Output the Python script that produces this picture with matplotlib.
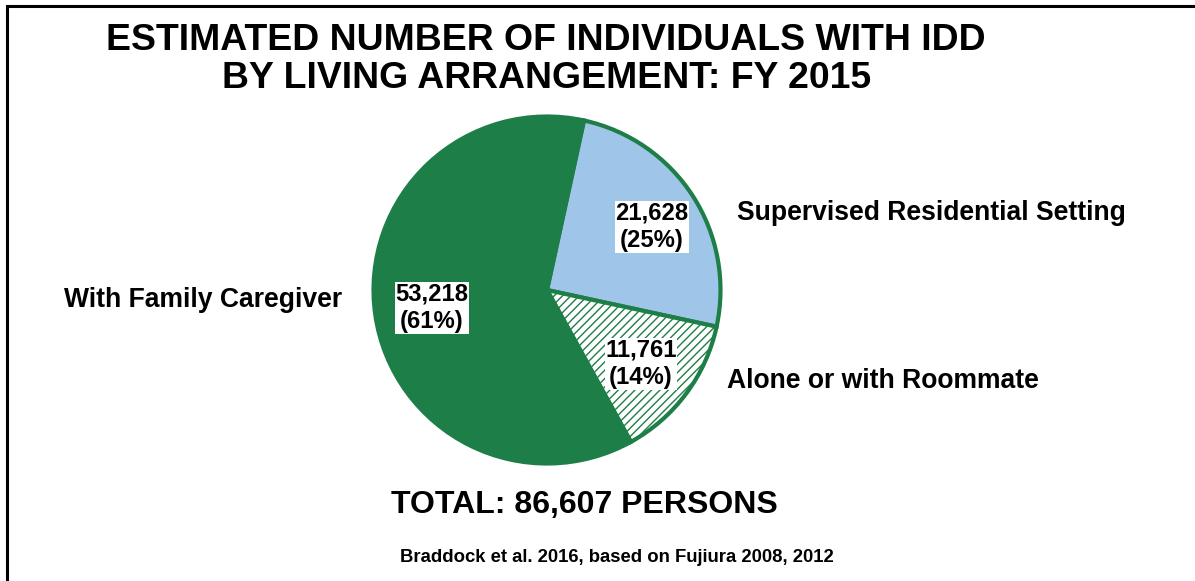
import numpy as np
import matplotlib
matplotlib.use('Agg')
import matplotlib.pyplot as plt
from matplotlib.patches import Rectangle

plt.rcParams['font.family'] = ['Liberation Sans', 'DejaVu Sans']
plt.rcParams['font.weight'] = 'bold'
plt.rcParams['hatch.linewidth'] = 1.0

# datos
categorias = ['Supervised Residential Setting', 'Alone or with Roommate', 'With Family Caregiver']
personas = [21628, 11761, 53218]
porcentajes = [25, 14, 61]
total = 86607

verde = '#1E7E47'
azul = '#9FC5E8'

W, H = 1195, 581
fig = plt.figure(figsize=(W / 100, H / 100), dpi=100)

# marco (solo se ven el borde izquierdo y el superior)
fig.patches.append(Rectangle((7 / W, -0.1), 1.2, 1 - 6 / H + 0.1, transform=fig.transFigure,
                             fill=False, edgecolor='black', linewidth=2.2))

# ejes del pastel, centro (547,290) px y radio 173 px
cx, cy, r = 547, 290, 173.5
ax = fig.add_axes([(cx - r) / W, (H - cy - r) / H, 2 * r / W, 2 * r / H])
wedges, _ = ax.pie(personas, startangle=77.7, counterclock=False, radius=1,
                   colors=[azul, 'white', verde],
                   wedgeprops=dict(edgecolor=verde, linewidth=3))
wedges[1].set_hatch('////')
ax.set_xlim(-1, 1)
ax.set_ylim(-1, 1)
ax.axis('off')

caja = dict(facecolor='white', edgecolor='none', pad=0.5)

def etiqueta(x, y, n, p):
    fig.text(x / W, 1 - y / H, f"{n:,}\n({p}%)", ha='center', va='center',
             fontsize=17.2, linespacing=1.25, bbox=caja)

etiqueta(652, 227, personas[0], porcentajes[0])
etiqueta(641, 364, personas[1], porcentajes[1])
etiqueta(432, 308, personas[2], porcentajes[2])

fig.text(737 / W, 1 - 213 / H, 'Supervised Residential Setting', ha='left', va='center', fontsize=19.1)
fig.text(727 / W, 1 - 381 / H, 'Alone or with Roommate', ha='left', va='center', fontsize=19.1)
fig.text(342 / W, 1 - 300 / H, 'With Family Caregiver', ha='right', va='center', fontsize=19.1)

fig.text(546 / W, 1 - 41 / H, 'ESTIMATED NUMBER OF INDIVIDUALS WITH IDD', ha='center', va='center', fontsize=26.9)
fig.text(547 / W, 1 - 79 / H, 'BY LIVING ARRANGEMENT: FY 2015', ha='center', va='center', fontsize=26.9)

fig.text(584 / W, 1 - 505 / H, f'TOTAL: {total:,} PERSONS', ha='center', va='center', fontsize=23)
fig.text(617 / W, 1 - 557 / H, 'Braddock et al. 2016, based on Fujiura 2008, 2012', ha='center', va='center', fontsize=13.3)

fig.savefig('out.png', dpi=100)
